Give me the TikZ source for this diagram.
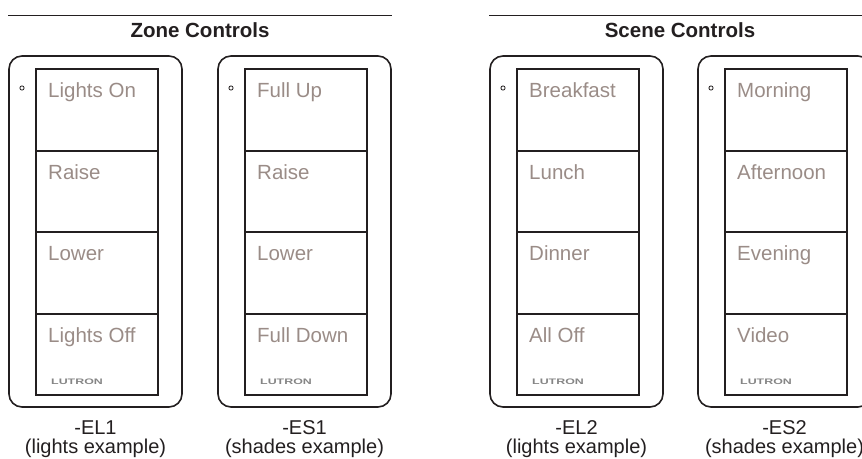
\documentclass[tikz,border=0pt]{standalone}
\usepackage{fontspec}
\setmainfont{Liberation Sans}
\usepackage{graphicx}
\definecolor{ink}{HTML}{231F20}
\definecolor{btntext}{HTML}{9A8C87}
\definecolor{logo}{HTML}{858585}
\tikzset{
  frame/.style={draw=ink, line width=1.6pt, rounded corners=13pt},
  btn/.style={draw=ink, line width=1.6pt},
  btnlabel/.style={anchor=base west, inner sep=0pt, text=btntext, font=\fontsize{20.5}{22}\selectfont},
  title/.style={anchor=base, inner sep=0pt, text=ink, font=\bfseries\fontsize{20.5}{22}\selectfont},
  sublabel/.style={anchor=base, inner sep=0pt, text=ink, font=\fontsize{20}{21}\selectfont},
  logotext/.style={anchor=base west, inner sep=0pt, text=logo, font=\bfseries\fontsize{8}{9}\selectfont},
  rule/.style={draw=ink, line width=1pt},
  led/.style={draw=ink, line width=0.8pt, circle, minimum size=4.2pt, inner sep=0pt}
}
\newcommand{\keypad}[8]{%
  % #1 name, #2 outer left x, #3-#6 labels, #7 code, #8 example
  \pgfmathsetmacro{\ol}{#2}
  \pgfmathsetmacro{\il}{#2+26}
  \pgfmathsetmacro{\ir}{#2+148}
  \pgfmathsetmacro{\orr}{#2+173}
  \pgfmathsetmacro{\cx}{#2+86.5}
  \draw[frame] (\ol,56) rectangle (\orr,407);
  \node[led] (#1led) at (\ol+13,88) {};
  \node[btn, anchor=north west, minimum width=122pt, minimum height=82pt, inner sep=0pt] (#1b1) at (\il,68) {};
  \node[btn, anchor=north west, minimum width=122pt, minimum height=81pt, inner sep=0pt] (#1b2) at (\il,150) {};
  \node[btn, anchor=north west, minimum width=122pt, minimum height=82pt, inner sep=0pt] (#1b3) at (\il,231) {};
  \node[btn, anchor=north west, minimum width=122pt, minimum height=81pt, inner sep=0pt] (#1b4) at (\il,313) {};
  \node[btnlabel] (#1t1) at (\il+13,97) {#3};
  \node[btnlabel] (#1t2) at (\il+13,179) {#4};
  \node[btnlabel] (#1t3) at (\il+13,260) {#5};
  \node[btnlabel] (#1t4) at (\il+13,342) {#6};
  \node[logotext] (#1logo) at (\il+16,384) {\scalebox{1.55}[1]{LUTRON}};
  \node[sublabel] (#1code) at (\cx,434) {#7};
  \node[sublabel] (#1ex) at (\cx,453) {#8};
}
\begin{document}
\begin{tikzpicture}[x=1pt,y=-1pt]
\useasboundingbox (0,0) rectangle (862,458);
\coordinate (zl) at (8,15);
\coordinate (zr) at (392,15);
\coordinate (sl) at (489,15);
\coordinate (sr) at (872,15);
\draw[rule] (zl) -- (zr);
\draw[rule] (sl) -- (sr);
\node[title] (zone) at (200,37.5) {Zone Controls};
\node[title] (scene) at (680,37.5) {Scene Controls};
\keypad{a}{9}{Lights On}{Raise}{Lower}{Lights Off}{-EL1}{(lights example)}
\keypad{b}{218}{Full Up}{Raise}{Lower}{Full Down}{-ES1}{(shades example)}
\keypad{c}{490}{Breakfast}{Lunch}{Dinner}{All Off}{-EL2}{(lights example)}
\keypad{d}{698}{Morning}{Afternoon}{Evening}{Video}{-ES2}{(shades example)}
\end{tikzpicture}
\end{document}
